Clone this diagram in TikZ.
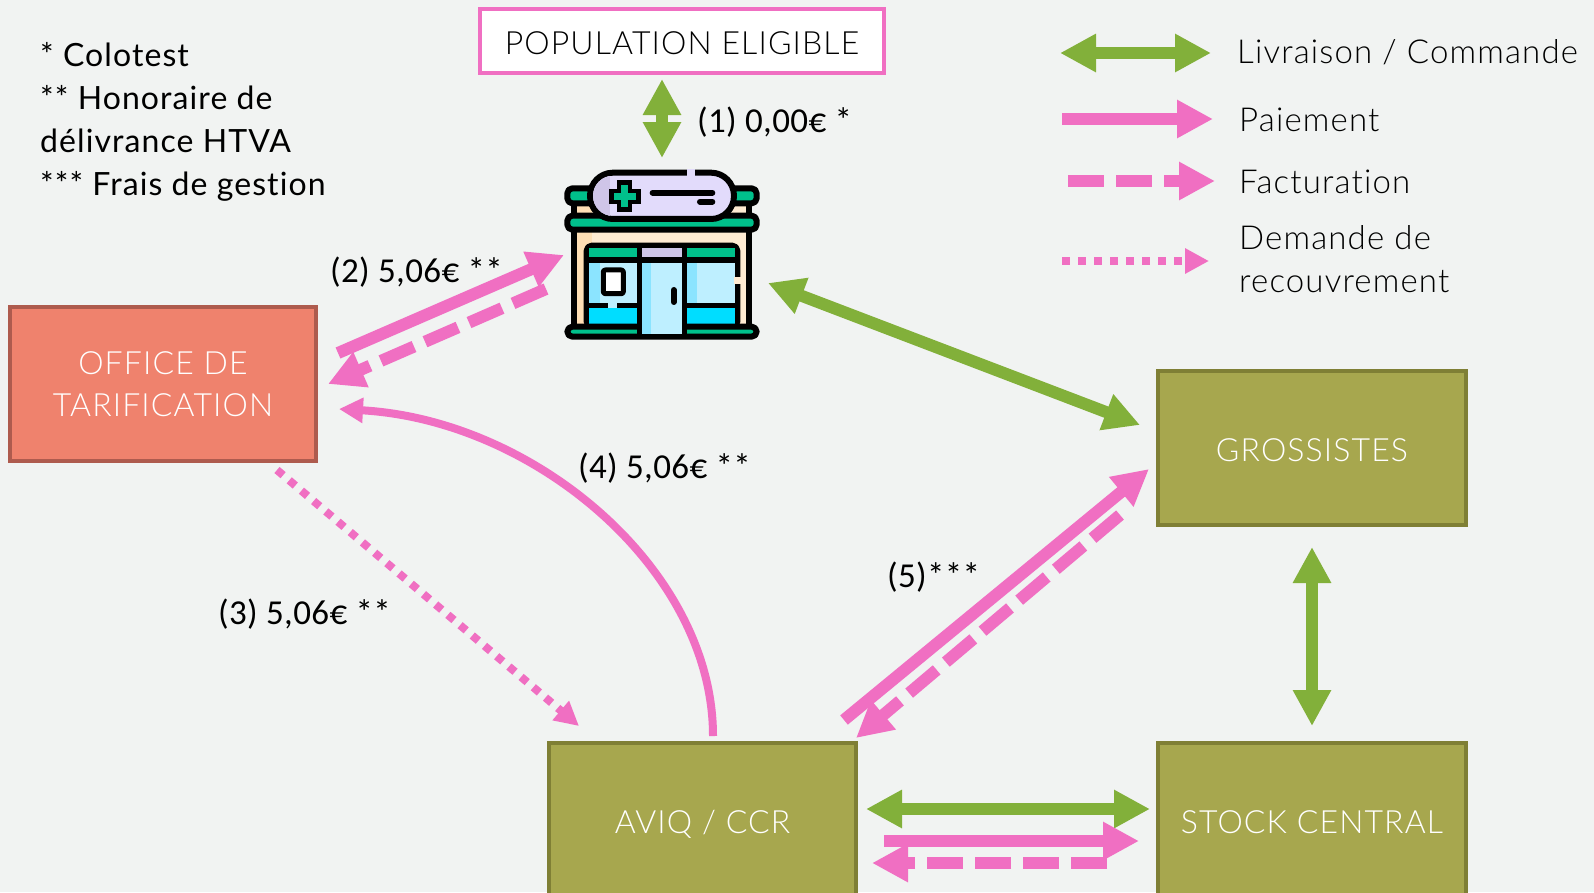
\documentclass[tikz,border=0pt]{standalone}
\usepackage{fontspec}
\usetikzlibrary{arrows.meta}
\setmainfont{Lato}[LetterSpace=3.4,Ligatures=NoCommon]
\newfontfamily\lightfont{Lato Light}[LetterSpace=3.5,Ligatures=NoCommon]
\newfontfamily\labelfont{Carlito}[LetterSpace=1,Ligatures=NoCommon]
\definecolor{fond}{HTML}{F1F3F2}
\definecolor{rose}{HTML}{F06FC2}
\definecolor{vert}{HTML}{82B03A}
\definecolor{olive}{HTML}{A7A74E}
\definecolor{oliveb}{HTML}{7F7F35}
\definecolor{saumon}{HTML}{EF826D}
\definecolor{saumonb}{HTML}{AE5B4E}
\definecolor{iconvert}{HTML}{00C08B}
\definecolor{iconcreme}{HTML}{FFEBD2}
\definecolor{iconcreme2}{HTML}{FFDFB5}
\definecolor{iconlilas}{HTML}{E2DBFB}
\definecolor{iconlilas2}{HTML}{CFC5E8}
\definecolor{iconbleu}{HTML}{BEEFFF}
\definecolor{iconbleu2}{HTML}{8BE4FF}
\definecolor{iconcyan}{HTML}{00DDFF}
\tikzset{
    bigtip/.tip={Triangle[length=36pt,width=36pt]},
    smalltip/.tip={Triangle[length=24pt,width=24pt]},
    livraison/.style={draw=vert,line width=12pt,bigtip-bigtip},
    paiement/.style={draw=rose,line width=12pt,-bigtip},
    facturation/.style={paiement,dash pattern=on 36pt off 12pt},
    paiementfin/.style={draw=rose,line width=8pt,-smalltip},
    recouvrement/.style={paiementfin,dash pattern=on 8pt off 8pt},
    boxtext/.style={font=\lightfont\fontsize{32}{42}\selectfont,align=center,inner sep=0pt},
    oneline/.style={boxtext,text height=26pt,text depth=0pt},
    olivebox/.style={oneline,text=white,fill=olive,draw=oliveb,line width=4pt,minimum width=308pt,minimum height=154pt},
    legendtext/.style={font=\lightfont\fontsize{33}{43}\selectfont,align=left,anchor=base west,inner sep=0pt},
    montant/.style={font=\labelfont\fontsize{35}{42}\selectfont,anchor=base west,inner sep=0pt},
    iconline/.style={draw=black,line width=6pt,line join=round,rounded corners=5pt},
}
\begin{document}
\begin{tikzpicture}[x=1pt,y=-1pt]
    \useasboundingbox (0,0) rectangle (1594,892);
    \fill[fond] (0,0) rectangle (1594,892);

    % Boxes
    \node[oneline,fill=white,draw=rose,line width=4pt,minimum width=404pt,minimum height=64pt] (population) at (682,41) {POPULATION ELIGIBLE};
    \node[boxtext,text=white,fill=saumon,draw=saumonb,line width=4pt,minimum width=306pt,minimum height=154pt] (office) at (163,384) {OFFICE DE\\TARIFICATION};
    \node[olivebox] (grossistes) at (1312,448) {GROSSISTES};
    \node[olivebox,minimum width=307pt] (aviq) at (702.5,820) {AVIQ / CCR};
    \node[olivebox] (stock) at (1312,820) {STOCK CENTRAL};

    % Pharmacy
    \begin{scope}[shift={(530,150)},x=0.3333pt,y=-0.3333pt]
        \fill[iconcreme] (133,165) rectangle (657,530);
        \fill[iconcreme2] (140,165) rectangle (185,525);
        \draw[iconline,rounded corners=0pt] (133,165) -- (133,530);
        \draw[iconline,rounded corners=0pt] (657,165) -- (657,530);
        \draw[iconline,fill=iconvert] (112,115) rectangle (200,160);
        \draw[iconline,fill=iconvert] (590,115) rectangle (680,160);
        \draw[iconline,fill=iconvert] (112,197) rectangle (680,239);
        \draw[iconline,fill=black] (170,287) rectangle (622,530);
        \fill[iconvert] (178,295) rectangle (320,322);
        \fill[iconlilas2] (336,295) rectangle (456,322);
        \fill[iconvert] (472,295) rectangle (614,322);
        \fill[iconbleu] (178,338) rectangle (320,458);
        \fill[iconbleu2] (178,338) rectangle (210,458);
        \fill[iconbleu] (472,338) rectangle (614,458);
        \fill[iconbleu2] (472,338) rectangle (500,458);
        \fill[iconcyan] (178,475) rectangle (320,522);
        \fill[iconcyan] (472,475) rectangle (614,522);
        \fill[iconbleu] (235,458) rectangle (260,475);
        \fill[iconcreme] (612,380) rectangle (632,403);
        \draw[iconline,fill=iconvert] (112,530) rectangle (680,560);
        \fill[iconbleu] (336,338) rectangle (456,552);
        \fill[iconbleu2] (336,338) rectangle (362,552);
        \fill[black] (320,530) rectangle (336,560);
        \fill[black] (456,530) rectangle (472,560);
        \draw[iconline,fill=white,line width=5pt,rounded corners=2pt] (220,360) rectangle (280,431);
        \draw[black,line width=6pt,line cap=round] (431,420) -- (431,456);
        \draw[iconline,fill=iconlilas,rounded corners=23pt] (180,68) rectangle (612,207);
        \begin{scope}
            \clip[rounded corners=20pt] (189,77) rectangle (603,198);
            \fill[iconlilas2] (189,77) rectangle (240,198);
        \end{scope}
        \fill[iconlilas] (472,58) rectangle (494,80);
        \draw[black,line width=15pt,line join=round] (285,90) -- (285,186) (237,138) -- (333,138);
        \draw[iconvert,line width=7pt] (285,105) -- (285,171) (252,138) -- (318,138);
        \draw[black,line width=6pt,line cap=round] (368,128) -- (547,128);
        \draw[black,line width=6pt,line cap=round] (510,155) -- (547,155);
    \end{scope}

    % Free ends of the arrows
    \coordinate (P1) at (662,79);
    \coordinate (P2) at (662,158);
    \coordinate (G1) at (768,283);
    \coordinate (G2) at (1140,425);
    \coordinate (O1) at (338,353);
    \coordinate (O2) at (564,255);
    \coordinate (O3) at (546,289);
    \coordinate (O4) at (328,384);
    \coordinate (O5) at (277,470);
    \coordinate (O6) at (579,726);
    \coordinate (A1) at (713,736);
    \coordinate (A2) at (339,409);
    \coordinate (A3) at (844,720);
    \coordinate (A4) at (1149,469);
    \coordinate (A5) at (1120,515);
    \coordinate (A6) at (856,738);
    \coordinate (S1) at (1312,547);
    \coordinate (S2) at (1312,726);
    \coordinate (S3) at (866,809);
    \coordinate (S4) at (1150,809);
    \coordinate (S5) at (884,841);
    \coordinate (S6) at (1139,841);
    \coordinate (S7) at (1107,863);
    \coordinate (S8) at (872,863);

    \draw[livraison] (P1) -- (P2);
    \draw[livraison] (G1) -- (G2);
    \draw[paiement] (O1) -- (O2);
    \draw[facturation] (O3) -- (O4);
    \draw[recouvrement] (O5) -- (O6);
    \draw[paiementfin] (A1) .. controls (713,570) and (535,420) .. (A2);
    \draw[paiement] (A3) -- (A4);
    \draw[facturation] (A5) -- (A6);
    \draw[livraison] (S1) -- (S2);
    \draw[livraison] (S3) -- (S4);
    \draw[paiement] (S5) -- (S6);
    \draw[facturation] (S7) -- (S8);

    % Amounts
    \node[montant] (m1) at (697,132) {(1) 0,00€ *};
    \node[montant] (m2) at (330,282) {(2) 5,06€ **};
    \node[montant] (m3) at (218,624) {(3) 5,06€ **};
    \node[montant] (m4) at (578,478) {(4) 5,06€ **};
    \node[montant] (m5) at (887,587) {(5)***};

    % Notes
    \node[font=\fontsize{32}{43}\selectfont,align=left,anchor=base west,inner sep=0pt] (notes) at (40,195) {* Colotest\\** Honoraire de\\délivrance HTVA\\*** Frais de gestion};

    % Legend
    \coordinate (L1) at (1060,53);
    \coordinate (L2) at (1211,53);
    \coordinate (L3) at (1062,119);
    \coordinate (L4) at (1213,119);
    \coordinate (L5) at (1068,181);
    \coordinate (L6) at (1215,181);
    \coordinate (L7) at (1062,261);
    \coordinate (L8) at (1209,261);
    \draw[livraison] (L1) -- (L2);
    \draw[paiement] (L3) -- (L4);
    \draw[facturation] (L5) -- (L6);
    \draw[recouvrement] (L7) -- (L8);
    \node[legendtext] (livr) at (1237,63) {Livraison / Commande};
    \node[legendtext] (paie) at (1239,131) {Paiement};
    \node[legendtext] (fact) at (1239,193) {Facturation};
    \node[legendtext] (dem) at (1239,292) {Demande de\\recouvrement};
\end{tikzpicture}
\end{document}
